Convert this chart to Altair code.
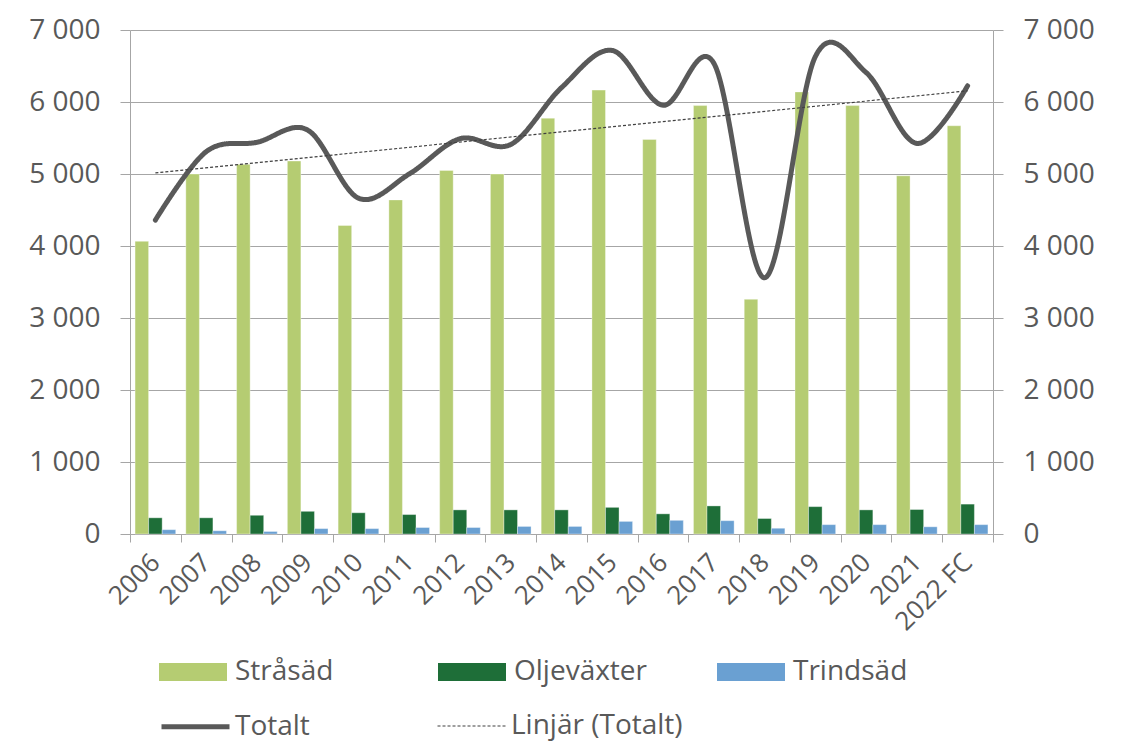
import altair as alt
import pandas as pd

years = ["2006", "2007", "2008", "2009", "2010", "2011", "2012", "2013", "2014",
         "2015", "2016", "2017", "2018", "2019", "2020", "2021", "2022 FC"]
strasad = [4065, 5000, 5134, 5180, 4285, 4640, 5050, 5000, 5775,
           6165, 5480, 5950, 3260, 6140, 5950, 4975, 5670]
oljevaxter = [225, 225, 260, 315, 295, 270, 335, 335, 335,
              370, 280, 390, 215, 380, 335, 340, 415]
trindsad = [60, 45, 35, 75, 75, 90, 90, 105, 105,
            175, 190, 185, 80, 130, 130, 100, 130]
totalt = [4360, 5310, 5440, 5610, 4665, 5000, 5490, 5410, 6200,
          6715, 5955, 6540, 3560, 6630, 6410, 5425, 6225]

crops = ["Stråsäd", "Oljeväxter", "Trindsäd"]
crop_colors = ["#b5cc72", "#1e6e38", "#6aa0d2"]
series = ["Totalt", "Linjär (Totalt)"]
y_ticks = [0, 1000, 2000, 3000, 4000, 5000, 6000, 7000]

bars_df = pd.DataFrame({
    "year": years * 3,
    "crop": [c for c in crops for _ in years],
    "value": strasad + oljevaxter + trindsad,
})
tot_df = pd.DataFrame({
    "year": years,
    "idx": list(range(len(years))),
    "value": totalt,
    "serie": ["Totalt"] * len(years),
})
year_lookup = pd.DataFrame({"idx": list(range(len(years))), "year": years})

FONT = "Open Sans"
TXT = "#595959"
GRID = "#a6a6a6"
label_expr = "replace(format(datum.value, ','), ',', ' ')"

x_enc = alt.X(
    "year:N", sort=years, title=None,
    scale=alt.Scale(paddingInner=0, paddingOuter=0),
    axis=alt.Axis(labelAngle=-45, labelAlign="right", labelBaseline="middle",
                  tickBand="extent", tickSize=8, tickColor=GRID, domainColor=GRID,
                  labelFont=FONT, labelFontSize=26, labelColor=TXT, labelPadding=16),
)
y_scale = alt.Scale(domain=[0, 7000], nice=False)

line_legend = alt.Legend(
    title=None, orient="none", legendX=46, legendY=677, direction="horizontal",
    columns=2, gridAlign="all", columnPadding=28, symbolType="M-2,0H2",
    symbolSize=1156, labelOffset=20, labelLimit=400, padding=0,
    labelFont=FONT, labelFontSize=28, labelColor=TXT,
)

bars = alt.Chart(bars_df).mark_bar(stroke="#ffffff", strokeWidth=0.6, strokeOpacity=0.6).encode(
    x=x_enc,
    xOffset=alt.XOffset("crop:N", sort=crops,
                        scale=alt.Scale(domain=crops, paddingInner=0, paddingOuter=0.373)),
    y=alt.Y("value:Q", scale=y_scale, title=None,
            axis=alt.Axis(values=y_ticks, labelExpr=label_expr, grid=True, gridColor=GRID,
                          domainColor=GRID, tickColor=GRID, tickSize=10, labelPadding=20,
                          labelFont=FONT, labelFontSize=28, labelColor=TXT)),
    fill=alt.Fill("crop:N", sort=crops, scale=alt.Scale(domain=crops, range=crop_colors),
                  legend=alt.Legend(title=None, orient="none", legendX=46, legendY=625,
                                    direction="horizontal", columns=3, gridAlign="all",
                                    columnPadding=70, symbolType="M-2,-0.53H2V0.53H-2Z",
                                    symbolSize=1156, symbolStrokeWidth=0, labelOffset=25,
                                    labelLimit=400, padding=0,
                                    labelFont=FONT, labelFontSize=28, labelColor=TXT)),
)

stroke_scale = alt.Scale(domain=series, range=["#595959", "#404040"])
dash_scale = alt.Scale(domain=series, range=[[1, 0], [3, 2]])
width_scale = alt.Scale(domain=series, range=[5, 1.2])

line = alt.Chart(tot_df).mark_line(interpolate="cardinal", tension=0,
                                   strokeCap="round", strokeJoin="round").encode(
    x=alt.X("year:N", sort=years),
    y=alt.Y("value:Q", scale=y_scale, title=None,
            axis=alt.Axis(orient="right", values=y_ticks, labelExpr=label_expr, grid=False,
                          domainColor=GRID, tickColor=GRID, tickSize=10, labelPadding=20,
                          labelFont=FONT, labelFontSize=28, labelColor=TXT)),
    stroke=alt.Stroke("serie:N", scale=stroke_scale, legend=line_legend),
    strokeDash=alt.StrokeDash("serie:N", scale=dash_scale, legend=line_legend),
    strokeWidth=alt.StrokeWidth("serie:N", scale=width_scale, legend=line_legend),
)

trend = alt.Chart(tot_df).transform_regression(
    "idx", "value"
).transform_lookup(
    lookup="idx", from_=alt.LookupData(year_lookup, "idx", ["year"])
).transform_calculate(
    serie="'Linjär (Totalt)'"
).mark_line().encode(
    x=alt.X("year:N", sort=years),
    y=alt.Y("value:Q", scale=y_scale, axis=None),
    stroke=alt.Stroke("serie:N", scale=stroke_scale, legend=line_legend),
    strokeDash=alt.StrokeDash("serie:N", scale=dash_scale, legend=line_legend),
    strokeWidth=alt.StrokeWidth("serie:N", scale=width_scale, legend=line_legend),
)

chart = alt.layer(bars, line, trend).resolve_axis(y="independent").properties(
    width=863, height=504,
    padding={"left": 122, "top": 22, "right": 128, "bottom": 215},
    autosize=alt.AutoSizeParams(type="none"),
    background="#ffffff",
).configure_view(stroke=None)

chart.save("out.html", embed_options={"renderer": "svg", "actions": False})
